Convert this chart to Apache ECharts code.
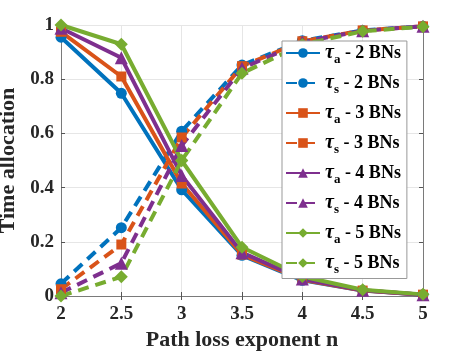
<!DOCTYPE html>
<html>
<head>
<meta charset="utf-8">
<script src="https://cdn.jsdelivr.net/npm/echarts@6/dist/echarts.min.js"></script>
<style>
  html, body { margin: 0; padding: 0; background: #fff; }
  #main { width: 468px; height: 351px; }
</style>
</head>
<body>
<div id="main"></div>
<script>
// path loss exponent values on x
const xVals = [2, 2.5, 3, 3.5, 4, 4.5, 5];
const xTicks = ['2', '2.5', '3', '3.5', '4', '4.5', '5'];
const yTicks = ['0', '0.2', '0.4', '0.6', '0.8', '1'];

// tau_a (solid) per number of BNs
const ta2 = [0.955, 0.748, 0.392, 0.150, 0.058, 0.020, 0.005];
const ta3 = [0.975, 0.810, 0.415, 0.153, 0.060, 0.020, 0.005];
const ta4 = [0.988, 0.879, 0.445, 0.160, 0.063, 0.021, 0.005];
const ta5 = [1.000, 0.929, 0.500, 0.180, 0.072, 0.023, 0.006];
// tau_s (dashed)
const ts2 = [0.045, 0.252, 0.608, 0.852, 0.942, 0.980, 0.995];
const ts3 = [0.025, 0.190, 0.585, 0.848, 0.940, 0.980, 0.995];
const ts4 = [0.012, 0.121, 0.555, 0.840, 0.937, 0.979, 0.995];
const ts5 = [0.000, 0.071, 0.500, 0.822, 0.928, 0.977, 0.994];

const colors = ['#0072BD', '#D95319', '#7E2F8E', '#77AC30'];
const symbols = ['circle', 'rect', 'triangle', 'diamond'];
const symSizes = [11, 10, 13, 13];
const bnCounts = [2, 3, 4, 5];
const taAll = [ta2, ta3, ta4, ta5];
const tsAll = [ts2, ts3, ts4, ts5];

const font = 'Liberation Serif';

function pairs(ys) {
  return ys.map((y, i) => [xVals[i], y]);
}

const series = [];
for (let k = 0; k < 4; k++) {
  series.push({
    name: 'τa - ' + bnCounts[k] + ' BNs',
    type: 'line',
    data: pairs(taAll[k]),
    symbol: symbols[k],
    symbolSize: symSizes[k],
    showAllSymbol: true,
    lineStyle: { color: colors[k], width: 4 },
    itemStyle: { color: colors[k] }
  });
  series.push({
    name: 'τs - ' + bnCounts[k] + ' BNs',
    type: 'line',
    data: pairs(tsAll[k]),
    symbol: symbols[k],
    symbolSize: symSizes[k],
    showAllSymbol: true,
    lineStyle: { color: colors[k], width: 4, type: [11, 7] },
    itemStyle: { color: colors[k] }
  });
}

const chart = echarts.init(document.getElementById('main'));

const axisCommon = {
  axisLine: { show: true, lineStyle: { color: '#7a7a7a', width: 1 } },
  axisTick: { show: true, inside: true, length: 4, lineStyle: { color: '#555' } }
};

const option = {
  animation: false,
  backgroundColor: '#fff',
  grid: { left: 61, right: 45, top: 25, bottom: 55, outerBoundsMode: 'none', containLabel: false },
  legend: {
    orient: 'vertical',
    left: 282,
    top: 41,
    width: 120,
    padding: [2, 6, 2, 3],
    itemWidth: 34,
    itemHeight: 12,
    itemGap: 6.5,
    backgroundColor: '#fff',
    borderColor: '#999',
    borderWidth: 1,
    formatter: function (name) {
      return '{t|τ}{s|' + name.charAt(1) + '}{b|' + name.slice(2) + '}';
    },
    textStyle: {
      fontFamily: font,
      fontWeight: 'bold',
      fontSize: 18,
      color: '#000',
      rich: {
        t: { fontFamily: font, fontStyle: 'italic', fontSize: 20, color: '#000', lineHeight: 24, verticalAlign: 'middle' },
        s: { fontFamily: font, fontWeight: 'bold', fontSize: 13, color: '#000', padding: [14, 0, 0, 0], verticalAlign: 'bottom' },
        b: { fontFamily: font, fontWeight: 'bold', fontSize: 18, color: '#000', verticalAlign: 'middle' }
      }
    },
    data: series.map(s => s.name)
  },
  xAxis: [{
    type: 'value',
    min: 2,
    max: 5,
    interval: 0.5,
    name: 'Path loss exponent n',
    nameLocation: 'middle',
    nameGap: 31,
    nameTextStyle: { fontFamily: font, fontWeight: 'bold', fontSize: 22, color: '#262626' },
    axisLabel: {
      fontFamily: font, fontWeight: 'bold', fontSize: 19, color: '#262626', margin: 9,
      formatter: v => xTicks[Math.round((v - 2) / 0.5)]
    },
    splitLine: { show: true, lineStyle: { color: '#e6e6e6', width: 1 } },
    ...axisCommon
  }, {
    type: 'value',
    position: 'top',
    min: 2,
    max: 5,
    interval: 0.5,
    axisLabel: { show: false },
    splitLine: { show: false },
    ...axisCommon
  }],
  yAxis: [{
    type: 'value',
    min: 0,
    max: 1,
    interval: 0.2,
    name: 'Time allocation',
    nameLocation: 'middle',
    nameGap: 35,
    nameTextStyle: { fontFamily: font, fontWeight: 'bold', fontSize: 22, color: '#262626' },
    axisLabel: {
      fontFamily: font, fontWeight: 'bold', fontSize: 19, color: '#262626', margin: 7,
      formatter: v => yTicks[Math.round(v / 0.2)]
    },
    splitLine: { show: true, lineStyle: { color: '#e6e6e6', width: 1 } },
    ...axisCommon
  }, {
    type: 'value',
    position: 'right',
    min: 0,
    max: 1,
    interval: 0.2,
    axisLabel: { show: false },
    splitLine: { show: false },
    ...axisCommon
  }],
  series: series
};

chart.setOption(option);
</script>
</body>
</html>
